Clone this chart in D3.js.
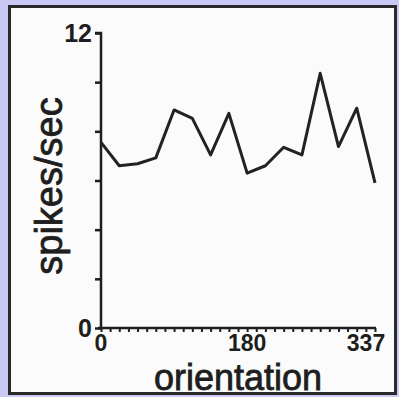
<!DOCTYPE html>
<html><head><meta charset="utf-8">
<script src="https://cdn.jsdelivr.net/npm/d3@7"></script>
<style>html,body{margin:0;padding:0;background:#c9c9f3;}svg{display:block;}</style>
</head><body>
<script>
const orientations = [0,22.5,45,67.5,90,112.5,135,157.5,180,202.5,225,247.5,270,292.5,315,337.5];
const spikesPerSec = [7.55,6.6,6.68,6.92,8.87,8.53,7.04,8.73,6.3,6.6,7.35,7.04,10.36,7.38,8.94,5.9];
const yTickLabels = [[0,"0"],[12,"12"]];
const xTickLabels = [[0,"0"],[180,"180"],[337.5,"337"]];

const W = 399, H = 397;
const svg = d3.select("body").append("svg").attr("width", W).attr("height", H);
svg.append("rect").attr("x",0).attr("y",0).attr("width",W).attr("height",H).attr("fill","#c9c9f3");
svg.append("rect").attr("x",9.5).attr("y",6.5).attr("width",386).attr("height",387)
  .attr("fill","#fbfbfb").attr("stroke","#2a2a2a").attr("stroke-width",3);

const x = d3.scaleLinear().domain([0,337.5]).range([101,375]);
const y = d3.scaleLinear().domain([0,12]).range([328,33]);
const font = "'Liberation Sans', Arial, sans-serif";
const ink = "#1e1e1e";

// y axis
const yAxis = d3.axisLeft(y).tickValues(d3.range(0,12.01,2)).tickSize(6).tickFormat("");
const gy = svg.append("g").attr("transform","translate(101,0)").call(yAxis);
gy.select(".domain").attr("stroke",ink).attr("stroke-width",2.5).attr("d","M-6,33H0V328");
gy.selectAll(".tick line").attr("stroke",ink).attr("stroke-width",2.5);
yTickLabels.forEach(([v,t])=>{
  svg.append("text").attr("x",92).attr("y",y(v)).attr("dy","0.36em").attr("text-anchor","end")
    .attr("font-family",font).attr("font-size",25).attr("font-weight","bold").attr("fill",ink).text(t);
});

// x axis
const xAxis = d3.axisBottom(x).tickValues(d3.range(0,337.6,11.25)).tickSize(4).tickFormat("");
const gx = svg.append("g").attr("transform","translate(0,328)").call(xAxis);
gx.select(".domain").attr("stroke",ink).attr("stroke-width",2.5).attr("d","M98,0H376");
gx.selectAll(".tick line").attr("stroke",ink).attr("stroke-width",2);
xTickLabels.forEach(([v,t])=>{
  const last = v===337.5;
  svg.append("text").attr("x",last? x(v)-9 : x(v)).attr("y",343).attr("dy","0.36em").attr("text-anchor","middle")
    .attr("font-family",font).attr("font-size",23).attr("font-weight","bold").attr("fill",ink).text(t);
});

// axis titles
svg.append("text").attr("x",238).attr("y",390).attr("text-anchor","middle")
  .attr("font-family",font).attr("font-size",36).attr("fill",ink).attr("stroke",ink).attr("stroke-width",0.8).text("orientation");
svg.append("text").attr("transform","translate(62,186) rotate(-90)").attr("text-anchor","middle")
  .attr("font-family",font).attr("font-size",38).attr("fill",ink).attr("stroke",ink).attr("stroke-width",0.8).text("spikes/sec");

// data line
const line = d3.line().x((d,i)=>x(orientations[i])).y(d=>y(d));
svg.append("path").datum(spikesPerSec).attr("d",line).attr("fill","none")
  .attr("stroke","#222").attr("stroke-width",3).attr("stroke-linejoin","round");
</script>
</body></html>
